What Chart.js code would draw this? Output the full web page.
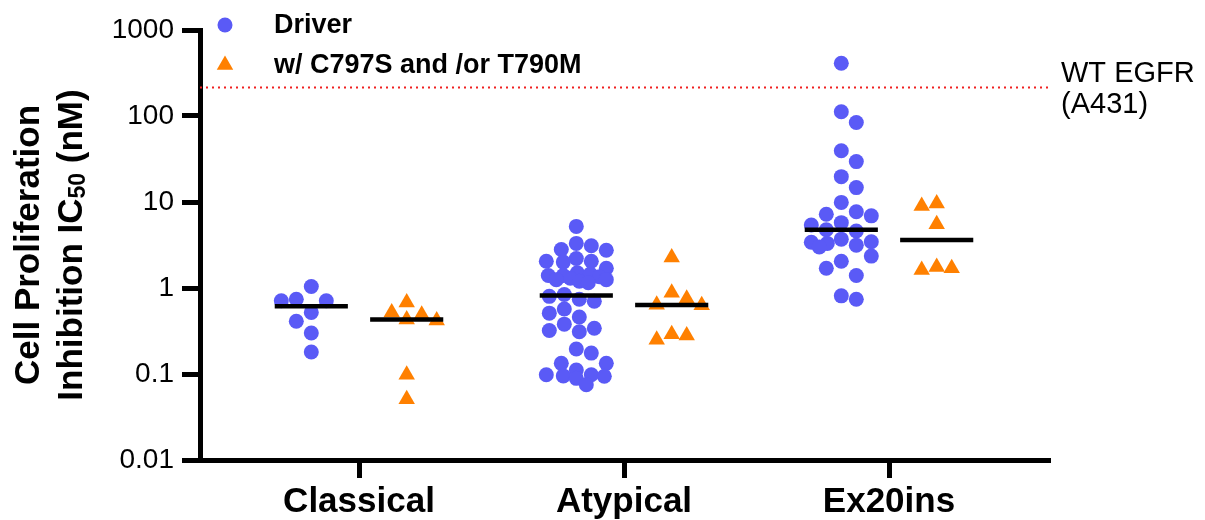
<!DOCTYPE html>
<html>
<head>
<meta charset="utf-8">
<title>Cell Proliferation Inhibition IC50</title>
<script src="https://cdn.jsdelivr.net/npm/chart.js@4.4.1/dist/chart.umd.min.js"></script>
<style>
    html, body { margin: 0; padding: 0; background: #fff; }
    #wrap { width: 1205px; height: 520px; position: relative; }
</style>
</head>
<body>
<div id="wrap"><canvas id="chart"></canvas></div>
<script>
// ---- data (IC50 in nM) ----
const categories = ['Classical', 'Atypical', 'Ex20ins'];
const seriesNames = ['Driver', 'w/ C797S and /or T790M'];

const driverClassical = [1.04, 0.74, 0.71, 0.71, 0.52, 0.41, 0.30, 0.18];
const driverAtypical = [5.2, 3.3, 3.1, 2.8, 2.75, 2.2, 2.05, 2.05, 2.0, 1.7,
    1.5, 1.45, 1.4, 1.4, 1.35, 1.3, 1.25, 1.25, 1.2, 1.15,
    0.84, 0.80, 0.74, 0.70, 0.57, 0.51, 0.46, 0.38, 0.34, 0.32, 0.31,
    0.195, 0.175, 0.133, 0.133, 0.111, 0.098, 0.098, 0.095, 0.094, 0.089, 0.075];
const driverEx20ins = [410, 112, 84, 39.5, 29.5, 19.7, 14.7, 9.9, 7.7, 7.2, 6.9,
    5.75, 5.4, 4.75, 4.6, 3.7, 3.45, 3.4, 3.3, 3.15, 3.0, 2.35, 2.05, 1.7, 1.4, 0.81, 0.74];

const mutantClassical = [0.68, 0.52, 0.49, 0.43, 0.42, 0.098, 0.051];
const mutantAtypical = [2.26, 0.88, 0.75, 0.64, 0.63, 0.29, 0.28, 0.25];
const mutantEx20ins = [9.6, 9.0, 5.5, 1.75, 1.7, 1.62];

const wtEgfrIC50 = 215;
const wtEgfrLabel = ['WT EGFR', '(A431)'];

const yTickValues = [0.01, 0.1, 1, 10, 100, 1000];
const yTickLabels = ['0.01', '0.1', '1', '10', '100', '1000'];

// ---- style ----
const BLUE = '#5a5af6';
const ORANGE = '#ff8000';
const FONT = "'Liberation Sans', Arial, Helvetica, sans-serif";
const X_MIN = 0.4, X_MAX = 3.6;
const SUB_OFFSET = 0.18;       // driver left, mutant right of the category
const MEDIAN_HALF = 0.138;     // half length of the median bar
const SWARM_HALF_PX = 30;      // max spread of a swarm
const CIRCLE_R = 7.5;
const TRIANGLE_R = 9.5;

const driverValues = [driverClassical, driverAtypical, driverEx20ins];
const mutantValues = [mutantClassical, mutantAtypical, mutantEx20ins];

function median(vals) {
    const s = [...vals].sort((a, b) => a - b);
    const m = Math.floor(s.length / 2);
    return s.length % 2 ? s[m] : (s[m - 1] + s[m]) / 2;
}

function groupPoints(valueLists, side) {
    const pts = [];
    valueLists.forEach((vals, ci) => {
        const x0 = ci + 1 + side * SUB_OFFSET;
        vals.forEach(v => pts.push({ x: x0, x0: x0, y: v, group: ci }));
    });
    return pts;
}

function medianSets(valueLists, side) {
    return valueLists.map((vals, ci) => {
        const c = ci + 1 + side * SUB_OFFSET;
        const m = median(vals);
        return {
            type: 'line',
            data: [{ x: c - MEDIAN_HALF, y: m }, { x: c + MEDIAN_HALF, y: m }],
            borderColor: '#000',
            borderWidth: 4.5,
            pointRadius: 0,
            order: 0
        };
    });
}

// row-like beeswarm: each point moves sideways until its box is clear of the placed ones
function layoutSwarm(chart) {
    const xs = chart.scales.x, ys = chart.scales.y;
    [0, 1].forEach(di => {
        const ds = chart.data.datasets[di];
        const dist = di === 0 ? 14.5 : 15;
        const groups = {};
        ds.data.forEach(p => { (groups[p.group] = groups[p.group] || []).push(p); });
        Object.values(groups).forEach(pts => {
            const cpx = xs.getPixelForValue(pts[0].x0);
            const placed = [];
            pts.forEach((p, i) => {
                const py = ys.getPixelForValue(p.y);
                let chosen = null, best = 0, bestScore = -1;
                for (let k = 0; k <= 2 * SWARM_HALF_PX; k++) {
                    const o = Math.ceil(k / 2) * (k % 2 ? 1 : -1) * (i % 2 ? -1 : 1);
                    let minD = Infinity;
                    placed.forEach(q => {
                        minD = Math.min(minD, Math.max(Math.abs(o - q.o), Math.abs(py - q.py)));
                    });
                    if (minD >= dist) { chosen = o; break; }
                    if (minD > bestScore) { bestScore = minD; best = o; }
                }
                const o = chosen === null ? best : chosen;
                placed.push({ o, py });
                p.x = xs.getValueForPixel(cpx + o);
            });
        });
    });
}

// legend drawn in the top left corner
const legendPlugin = {
    id: 'cornerLegend',
    afterDraw(chart) {
        const ctx = chart.ctx;
        const rows = [
            { name: seriesNames[0], style: 'circle', color: BLUE, y: 25 },
            { name: seriesNames[1], style: 'triangle', color: ORANGE, y: 65 }
        ];
        ctx.save();
        ctx.font = 'bold 27px ' + FONT;
        ctx.textBaseline = 'middle';
        ctx.textAlign = 'left';
        rows.forEach(r => {
            ctx.fillStyle = r.color;
            ctx.beginPath();
            if (r.style === 'circle') {
                ctx.arc(225, r.y, CIRCLE_R, 0, Math.PI * 2);
            } else {
                const rad = TRIANGLE_R;
                ctx.moveTo(225, r.y - rad);
                ctx.lineTo(225 + rad * Math.sin(Math.PI * 2 / 3), r.y + rad / 2);
                ctx.lineTo(225 - rad * Math.sin(Math.PI * 2 / 3), r.y + rad / 2);
                ctx.closePath();
            }
            ctx.fill();
            ctx.fillStyle = '#000';
            ctx.fillText(r.name, 274, r.y + 1);
        });
        ctx.restore();
    }
};

// rotated two line axis title with a real subscript
const yTitlePlugin = {
    id: 'yTitle',
    afterDraw(chart) {
        const ctx = chart.ctx;
        const cy = (chart.chartArea.top + chart.chartArea.bottom) / 2;
        ctx.save();
        ctx.fillStyle = '#000';
        ctx.textBaseline = 'middle';
        ctx.translate(29, cy);
        ctx.rotate(-Math.PI / 2);
        ctx.font = 'bold 35px ' + FONT;
        ctx.textAlign = 'center';
        ctx.fillText('Cell Proliferation', 0, 0);
        ctx.restore();

        ctx.save();
        ctx.fillStyle = '#000';
        ctx.textBaseline = 'middle';
        ctx.translate(72, cy);
        ctx.rotate(-Math.PI / 2);
        ctx.textAlign = 'left';
        const big = 'bold 35px ' + FONT, small = 'bold 23px ' + FONT;
        const parts = [['Inhibition IC', big, 0], ['50', small, 7], [' (nM)', big, 0]];
        let total = 0;
        parts.forEach(p => { ctx.font = p[1]; total += ctx.measureText(p[0]).width; });
        let x = -total / 2;
        parts.forEach(p => {
            ctx.font = p[1];
            ctx.fillText(p[0], x, p[2]);
            x += ctx.measureText(p[0]).width;
        });
        ctx.restore();
    }
};

// label for the reference line, right of the plot
const wtLabelPlugin = {
    id: 'wtLabel',
    afterDraw(chart) {
        const ctx = chart.ctx;
        const y = chart.scales.y.getPixelForValue(wtEgfrIC50);
        ctx.save();
        ctx.font = '29px ' + FONT;
        ctx.fillStyle = '#000';
        ctx.textAlign = 'left';
        ctx.textBaseline = 'middle';
        ctx.fillText(wtEgfrLabel[0], chart.chartArea.right + 13, y - 13);
        ctx.fillText(wtEgfrLabel[1], chart.chartArea.right + 13, y + 18);
        ctx.restore();
    }
};

const datasets = [
    {
        label: seriesNames[0],
        data: groupPoints(driverValues, -1),
        pointStyle: 'circle',
        pointRadius: CIRCLE_R,
        backgroundColor: BLUE,
        borderWidth: 0,
        order: 1
    },
    {
        label: seriesNames[1],
        data: groupPoints(mutantValues, 1),
        pointStyle: 'triangle',
        pointRadius: TRIANGLE_R,
        backgroundColor: ORANGE,
        borderWidth: 0,
        order: 1
    },
    ...medianSets(driverValues, -1),
    ...medianSets(mutantValues, 1),
    {
        type: 'line',
        label: wtEgfrLabel.join(' '),
        data: [{ x: X_MIN, y: wtEgfrIC50 }, { x: X_MAX, y: wtEgfrIC50 }],
        borderColor: '#f02020',
        borderWidth: 2,
        borderDash: [2, 4],
        pointRadius: 0,
        order: 2
    }
];

const chart = new Chart(document.getElementById('chart'), {
    type: 'scatter',
    data: { datasets },
    options: {
        responsive: true,
        maintainAspectRatio: false,
        animation: false,
        events: [],
        layout: { padding: { left: 100, right: 157, top: 30, bottom: 0 } },
        plugins: {
            legend: { display: false },
            tooltip: { enabled: false }
        },
        scales: {
            x: {
                type: 'linear',
                min: X_MIN,
                max: X_MAX,
                afterBuildTicks: (scale) => { scale.ticks = categories.map((c, i) => ({ value: i + 1 })); },
                afterFit: (scale) => { scale.height = 60; },
                ticks: {
                    autoSkip: false,
                    maxRotation: 0,
                    padding: 3,
                    color: '#000',
                    font: { family: FONT, size: 35, weight: 'bold' },
                    callback: (value, index) => categories[index]
                },
                grid: { drawOnChartArea: false, tickLength: 18, tickWidth: 5, tickColor: '#000', lineWidth: 5 },
                border: { color: '#000', width: 5 }
            },
            y: {
                type: 'logarithmic',
                min: yTickValues[0],
                max: yTickValues[yTickValues.length - 1],
                afterBuildTicks: (scale) => { scale.ticks = yTickValues.map(v => ({ value: v })); },
                afterFit: (scale) => { scale.width = 100; },
                ticks: {
                    autoSkip: false,
                    padding: 8,
                    color: '#000',
                    font: { family: FONT, size: 28 },
                    callback: (value, index) => yTickLabels[index]
                },
                grid: { drawOnChartArea: false, tickLength: 18, tickWidth: 5, tickColor: '#000', lineWidth: 5 },
                border: { color: '#000', width: 5 }
            }
        }
    },
    plugins: [legendPlugin, yTitlePlugin, wtLabelPlugin]
});

layoutSwarm(chart);
chart.update('none');
</script>
</body>
</html>
